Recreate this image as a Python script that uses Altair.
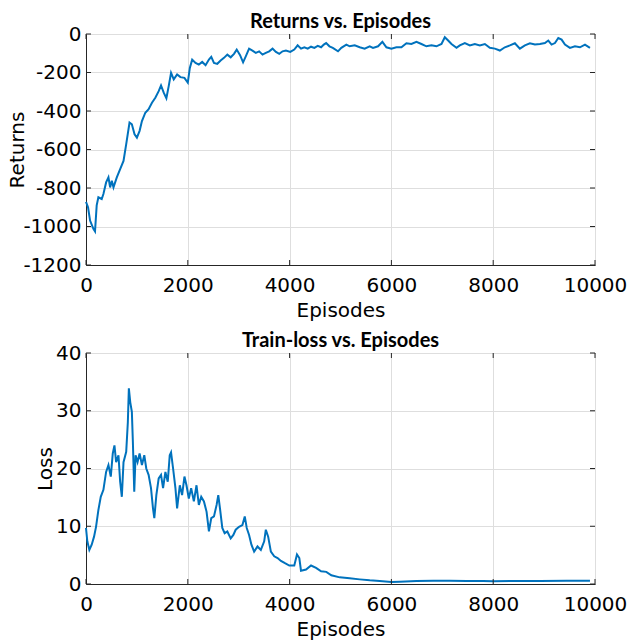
import altair as alt
import pandas as pd

# Returns per episode (running average)
ret_episodes = [0, 40, 80, 145, 177, 210, 243, 309, 342, 395, 441, 474, 507, 540, 605, 671, 737, 790,
                855, 901, 954, 1000, 1053, 1099, 1165, 1230, 1296, 1362, 1428, 1474, 1527, 1579, 1625,
                1671, 1724, 1790, 1855, 1934, 2000, 2040, 2086, 2152, 2217, 2283, 2349, 2415, 2461, 2514,
                2579, 2645, 2711, 2777, 2843, 2908, 2961, 3027, 3086, 3139, 3204, 3270, 3336, 3402, 3468,
                3533, 3599, 3665, 3731, 3797, 3862, 3928, 4013, 4092, 4158, 4224, 4290, 4356, 4421, 4487,
                4553, 4619, 4672, 4718, 4783, 4849, 4951, 5016, 5115, 5180, 5279, 5377, 5475, 5574, 5639,
                5738, 5823, 5902, 6000, 6098, 6197, 6295, 6393, 6492, 6590, 6688, 6787, 6885, 6984, 7049,
                7115, 7180, 7279, 7344, 7443, 7541, 7639, 7738, 7836, 7934, 8033, 8131, 8229, 8328, 8426,
                8524, 8623, 8721, 8820, 8918, 9016, 9082, 9147, 9213, 9279, 9344, 9410, 9508, 9606, 9705,
                9803, 9901]
ret_values = [-872, -900, -969, -1012, -1025, -890, -848, -857, -831, -771, -745, -797, -762, -797, -745,
              -702, -659, -572, -460, -469, -521, -538, -503, -452, -409, -391, -357, -331, -297, -267,
              -305, -334, -271, -202, -236, -210, -224, -228, -253, -176, -133, -150, -159, -145, -162,
              -133, -119, -150, -155, -138, -124, -107, -121, -103, -81, -110, -147, -116, -76, -86, -98,
              -90, -107, -98, -90, -76, -93, -103, -90, -86, -93, -81, -59, -76, -69, -76, -66, -72, -62,
              -69, -55, -47, -64, -72, -90, -72, -55, -64, -59, -69, -76, -64, -72, -64, -41, -69, -76,
              -69, -69, -48, -52, -41, -52, -64, -59, -64, -52, -17, -34, -52, -72, -59, -47, -59, -52,
              -59, -52, -72, -76, -86, -69, -59, -48, -76, -59, -48, -55, -52, -47, -34, -55, -47, -21,
              -29, -55, -72, -64, -69, -55, -72]

# Training loss per episode
loss_episodes = [0, 26, 66, 112, 158, 197, 243, 290, 342, 395, 441, 487, 526, 559, 592, 638, 671, 704,
                 737, 790, 822, 842, 869, 901, 921, 948, 974, 1013, 1053, 1099, 1145, 1184, 1230, 1277,
                 1316, 1342, 1382, 1428, 1474, 1514, 1560, 1606, 1645, 1671, 1711, 1757, 1790, 1843,
                 1888, 1934, 1974, 2020, 2066, 2119, 2171, 2217, 2264, 2317, 2369, 2415, 2461, 2514,
                 2566, 2599, 2632, 2678, 2724, 2777, 2843, 2895, 2941, 3007, 3073, 3119, 3158, 3204,
                 3250, 3303, 3369, 3435, 3501, 3533, 3579, 3632, 3698, 3764, 3830, 3909, 3994, 4092,
                 4145, 4191, 4224, 4323, 4421, 4520, 4619, 4721, 4820, 4984, 5180, 5377, 5574, 5770,
                 6000, 6164, 6492, 6820, 7147, 7475, 7803, 8000, 8459, 8918, 9442, 9901]
loss_values = [9.7, 7.4, 5.9, 6.8, 8.2, 9.9, 12.8, 15.1, 16.3, 19.4, 20.6, 18.6, 22.6, 24.0, 21.1, 22.3,
               17.7, 15.1, 21.1, 22.9, 28.0, 33.9, 31.5, 29.8, 24.6, 16.0, 22.3, 21.1, 22.6, 20.6, 22.3,
               20.0, 18.9, 16.6, 13.1, 11.4, 15.4, 18.3, 18.9, 16.6, 19.4, 17.7, 22.3, 22.8, 20.0, 16.6,
               13.1, 17.1, 15.4, 18.6, 17.1, 14.8, 16.6, 14.3, 17.1, 13.7, 15.1, 14.3, 12.5, 9.1, 11.4,
               11.7, 13.7, 15.4, 13.1, 9.7, 8.8, 9.1, 7.9, 8.5, 9.4, 9.9, 10.2, 11.7, 9.7, 8.5, 6.8, 5.6,
               6.5, 5.9, 7.4, 9.4, 8.2, 5.6, 4.8, 4.5, 4.0, 3.6, 3.2, 3.2, 5.1, 4.5, 2.3, 2.5, 3.2, 2.8,
               2.2, 2.1, 1.5, 1.15, 1.0, 0.8, 0.63, 0.52, 0.35, 0.4, 0.52, 0.58, 0.58, 0.52, 0.52, 0.46,
               0.52, 0.52, 0.58, 0.58]

x_ticks = [0, 2000, 4000, 6000, 8000, 10000]
ret_ticks = [0, -200, -400, -600, -800, -1000, -1200]
loss_ticks = [0, 10, 20, 30, 40]

TITLE_FONT = "Lato"
FONT = "DejaVu Sans"
BLUE = "#0072BD"
FRAME = "#262626"
W, H = 509, 231
TICK_LEN = 5
PLAIN = "'' + datum.value"  # plain hyphen for negative numbers


def panel(episodes, values, title, ylabel, ydomain, yticks, ytitle_pad):
    df = pd.DataFrame({"Episode": episodes, "Value": values})
    x_enc = alt.X("Episode:Q",
                  scale=alt.Scale(domain=[0, 10000], nice=False, zero=False),
                  axis=alt.Axis(values=x_ticks, title="Episodes", labelExpr=PLAIN,
                                labelFlush=False, labelPadding=10, titlePadding=5))
    y_enc = alt.Y("Value:Q",
                  scale=alt.Scale(domain=ydomain, nice=False, zero=False),
                  axis=alt.Axis(values=yticks, title=ylabel, labelExpr=PLAIN,
                                labelFlush=False, labelPadding=5, titlePadding=ytitle_pad))

    line = alt.Chart(df).mark_line(color=BLUE, strokeWidth=2).encode(x=x_enc, y=y_enc)

    # inward tick marks on all four sides of the box
    xt = alt.Chart(pd.DataFrame({"Episode": x_ticks})).mark_rule(color=FRAME, strokeWidth=1)
    yt = alt.Chart(pd.DataFrame({"Value": yticks})).mark_rule(color=FRAME, strokeWidth=1)
    ticks = [
        xt.encode(x=x_enc, y=alt.value(H), y2=alt.value(H - TICK_LEN)),
        xt.encode(x=x_enc, y=alt.value(0), y2=alt.value(TICK_LEN)),
        yt.encode(y=y_enc, x=alt.value(0), x2=alt.value(TICK_LEN)),
        yt.encode(y=y_enc, x=alt.value(W), x2=alt.value(W - TICK_LEN)),
    ]

    return alt.layer(line, *ticks).properties(
        width=W, height=H,
        title=alt.TitleParams(title, fontSize=20, fontWeight="bold", font=TITLE_FONT,
                              color="#000000", offset=-8))


top = panel(ret_episodes, ret_values, "Returns vs. Episodes", "Returns", [-1200, 0], ret_ticks, -5)
bottom = panel(loss_episodes, loss_values, "Train-loss vs. Episodes", "Loss", [0, 40], loss_ticks, 0)

chart = (
    alt.vconcat(top, bottom, spacing=9)
    .properties(padding={"left": 7, "top": 11, "right": 0, "bottom": 0}, background="white")
    .configure_view(stroke=FRAME, strokeWidth=1)
    .configure_axis(
        labelFont=FONT, labelFontSize=20, labelColor="#000000",
        titleFont=FONT, titleFontSize=20, titleColor="#000000", titleFontWeight="normal",
        domainColor=FRAME, tickColor=FRAME, tickSize=0,
        gridColor="#dedede", gridWidth=1,
    )
)

chart.save("out.html", embed_options={"renderer": "svg", "actions": False})
